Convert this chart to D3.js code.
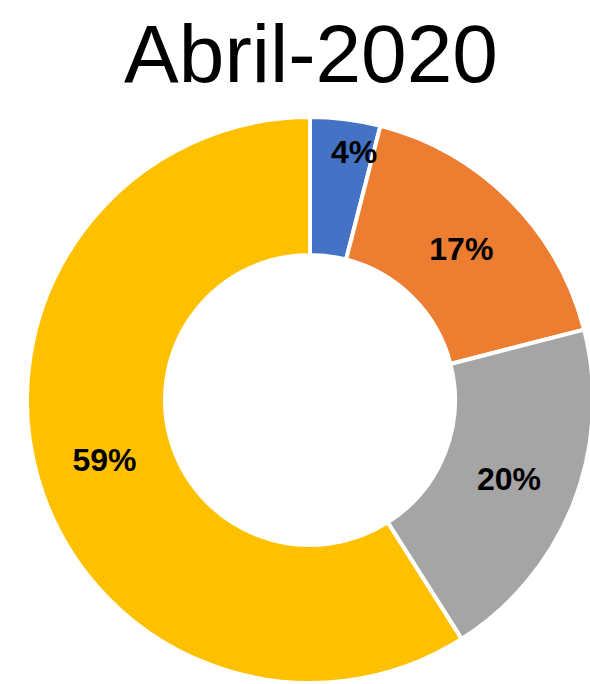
<!DOCTYPE html>
<html lang="es">
<head>
<meta charset="utf-8">
<title>Abril-2020</title>
<script src="https://cdn.jsdelivr.net/npm/d3@7"></script>
<style>
  body { margin: 0; background: #fff; }
  .title { font-family: "Liberation Sans", Arial, sans-serif; font-size: 82px; fill: #000; }
  .label { font-family: "Liberation Sans", Arial, sans-serif; font-size: 32px; font-weight: bold; fill: #000; }
</style>
</head>
<body>
<script>
var title = "Abril-2020";
var categories = ["A", "B", "C", "D"];
var values = [4, 17, 20, 59];
var colors = ["#4472C4", "#ED7D31", "#A5A5A5", "#FFC000"];

var width = 590, height = 684;
var cx = 310, cy = 400, outer = 283, inner = 145;

var svg = d3.select("body").append("svg")
	.attr("width", width)
	.attr("height", height);

svg.append("text")
	.attr("class", "title")
	.attr("x", 311)
	.attr("y", 82)
	.attr("text-anchor", "middle")
	.text(title);

var pie = d3.pie().sort(null).value(function(d) { return d; });
var arcs = pie(values);

var arc = d3.arc().innerRadius(inner).outerRadius(outer);

var g = svg.append("g").attr("transform", "translate(" + cx + "," + cy + ")");

g.selectAll(".slice").data(arcs)
	.enter().append("path")
	.attr("class", "slice")
	.attr("d", arc)
	.attr("fill", function(d, i) { return colors[i]; })
	.attr("stroke", "#fff")
	.attr("stroke-width", 4)
	.attr("stroke-linejoin", "miter");

// labels sit in the middle of the ring; the thin slice gets pushed out a bit
function labelPos(d) {
	var span = d.endAngle - d.startAngle;
	if (span < 0.3) {
		var a = d.startAngle + span * 0.7, r = outer - 31;
		return [Math.sin(a) * r, -Math.cos(a) * r];
	}
	return arc.centroid(d);
}

g.selectAll(".label").data(arcs)
	.enter().append("text")
	.attr("class", "label")
	.attr("transform", function(d) { return "translate(" + labelPos(d) + ")"; })
	.attr("text-anchor", "middle")
	.attr("dy", "0.36em")
	.text(function(d) { return d.data + "%"; });
</script>
</body>
</html>
